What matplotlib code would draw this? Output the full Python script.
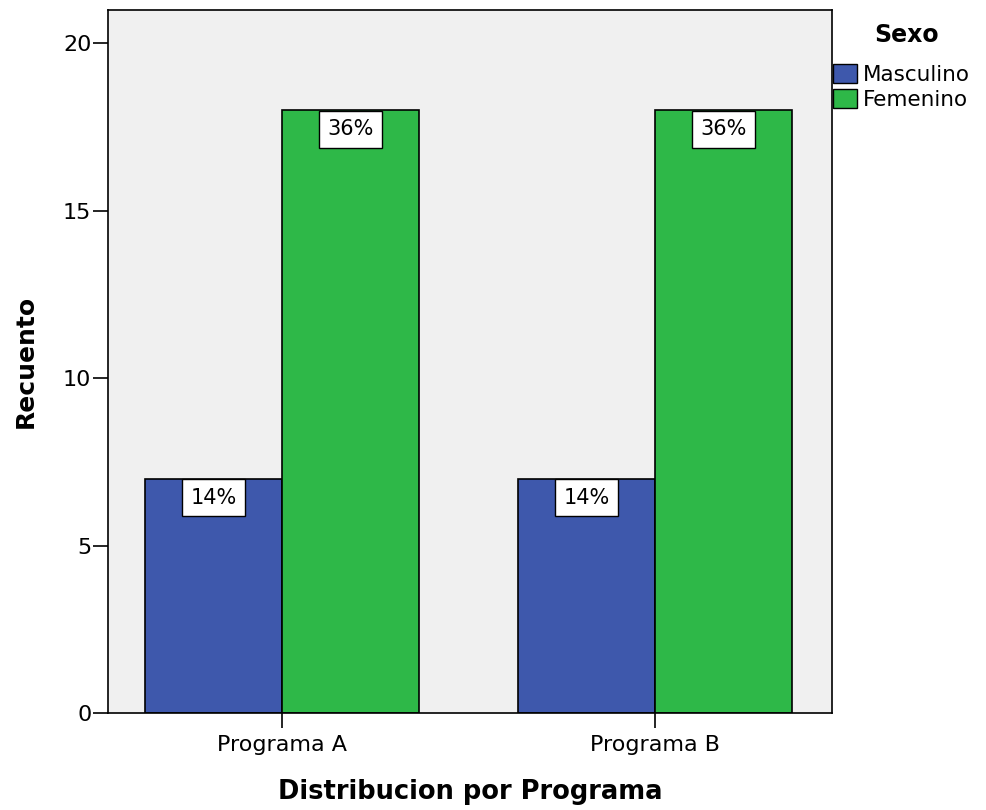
import numpy as np
import matplotlib
matplotlib.use('Agg')
import matplotlib.pyplot as plt
import matplotlib.patches as mpatches

# recuento por programa y sexo
programas = ['Programa A', 'Programa B']
masculino = [7, 7]
femenino = [18, 18]
pct_masculino = ['14%', '14%']
pct_femenino = ['36%', '36%']

azul = '#3E58AC'
verde = '#2EB848'

plt.rcParams['font.family'] = ['DejaVu Sans']

fig = plt.figure(figsize=(9.87, 8.1), dpi=100)
ax = fig.add_axes([0.1094, 0.1197, 0.7336, 0.868])
ax.set_facecolor('#F0F0F0')

x = np.arange(len(programas))
w = 0.368

ax.bar(x - w / 2, masculino, w, color=azul, edgecolor='black', linewidth=1.2)
ax.bar(x + w / 2, femenino, w, color=verde, edgecolor='black', linewidth=1.2)

# etiquetas de porcentaje colgando del borde superior de cada barra
caja = dict(boxstyle='square,pad=0.4', facecolor='white', edgecolor='black', linewidth=1.0)
for i in range(len(programas)):
    ax.annotate(pct_masculino[i], (x[i] - w / 2, masculino[i]), xytext=(0, -6.5),
                textcoords='offset points', ha='center', va='top', fontsize=15, bbox=caja)
    ax.annotate(pct_femenino[i], (x[i] + w / 2, femenino[i]), xytext=(0, -6.5),
                textcoords='offset points', ha='center', va='top', fontsize=15, bbox=caja)

ax.set_xlim(-0.467, 1.474)
ax.set_ylim(0, 21)
ax.set_yticks([0, 5, 10, 15, 20])
ax.set_xticks(x)
ax.set_xticklabels(programas)
ax.tick_params(axis='both', direction='out', length=11, width=1.2, labelsize=16, colors='black')
ax.tick_params(axis='x', pad=5)
ax.tick_params(axis='y', pad=1)
for s in ax.spines.values():
    s.set_linewidth(1.2)

ax.set_xlabel('Distribucion por Programa', fontsize=18.5, fontweight='bold', labelpad=17)
ax.set_ylabel('Recuento', fontsize=18, fontweight='bold', labelpad=18)

# leyenda: título aparte para separarlo más de las entradas
fig.text(907 / 987, 1 - 35 / 810, 'Sexo', fontsize=17, fontweight='bold', ha='center', va='center')
handles = [mpatches.Patch(facecolor=azul, edgecolor='black', label='Masculino'),
           mpatches.Patch(facecolor=verde, edgecolor='black', label='Femenino')]
fig.legend(handles=handles, loc='upper left', bbox_to_anchor=(0.844, 0.921),
           frameon=False, fontsize=15.5,
           handlelength=1.1, handleheight=0.95, handletextpad=0.3, labelspacing=0.22,
           borderaxespad=0, borderpad=0.0)

plt.savefig('out.png', dpi=100)
